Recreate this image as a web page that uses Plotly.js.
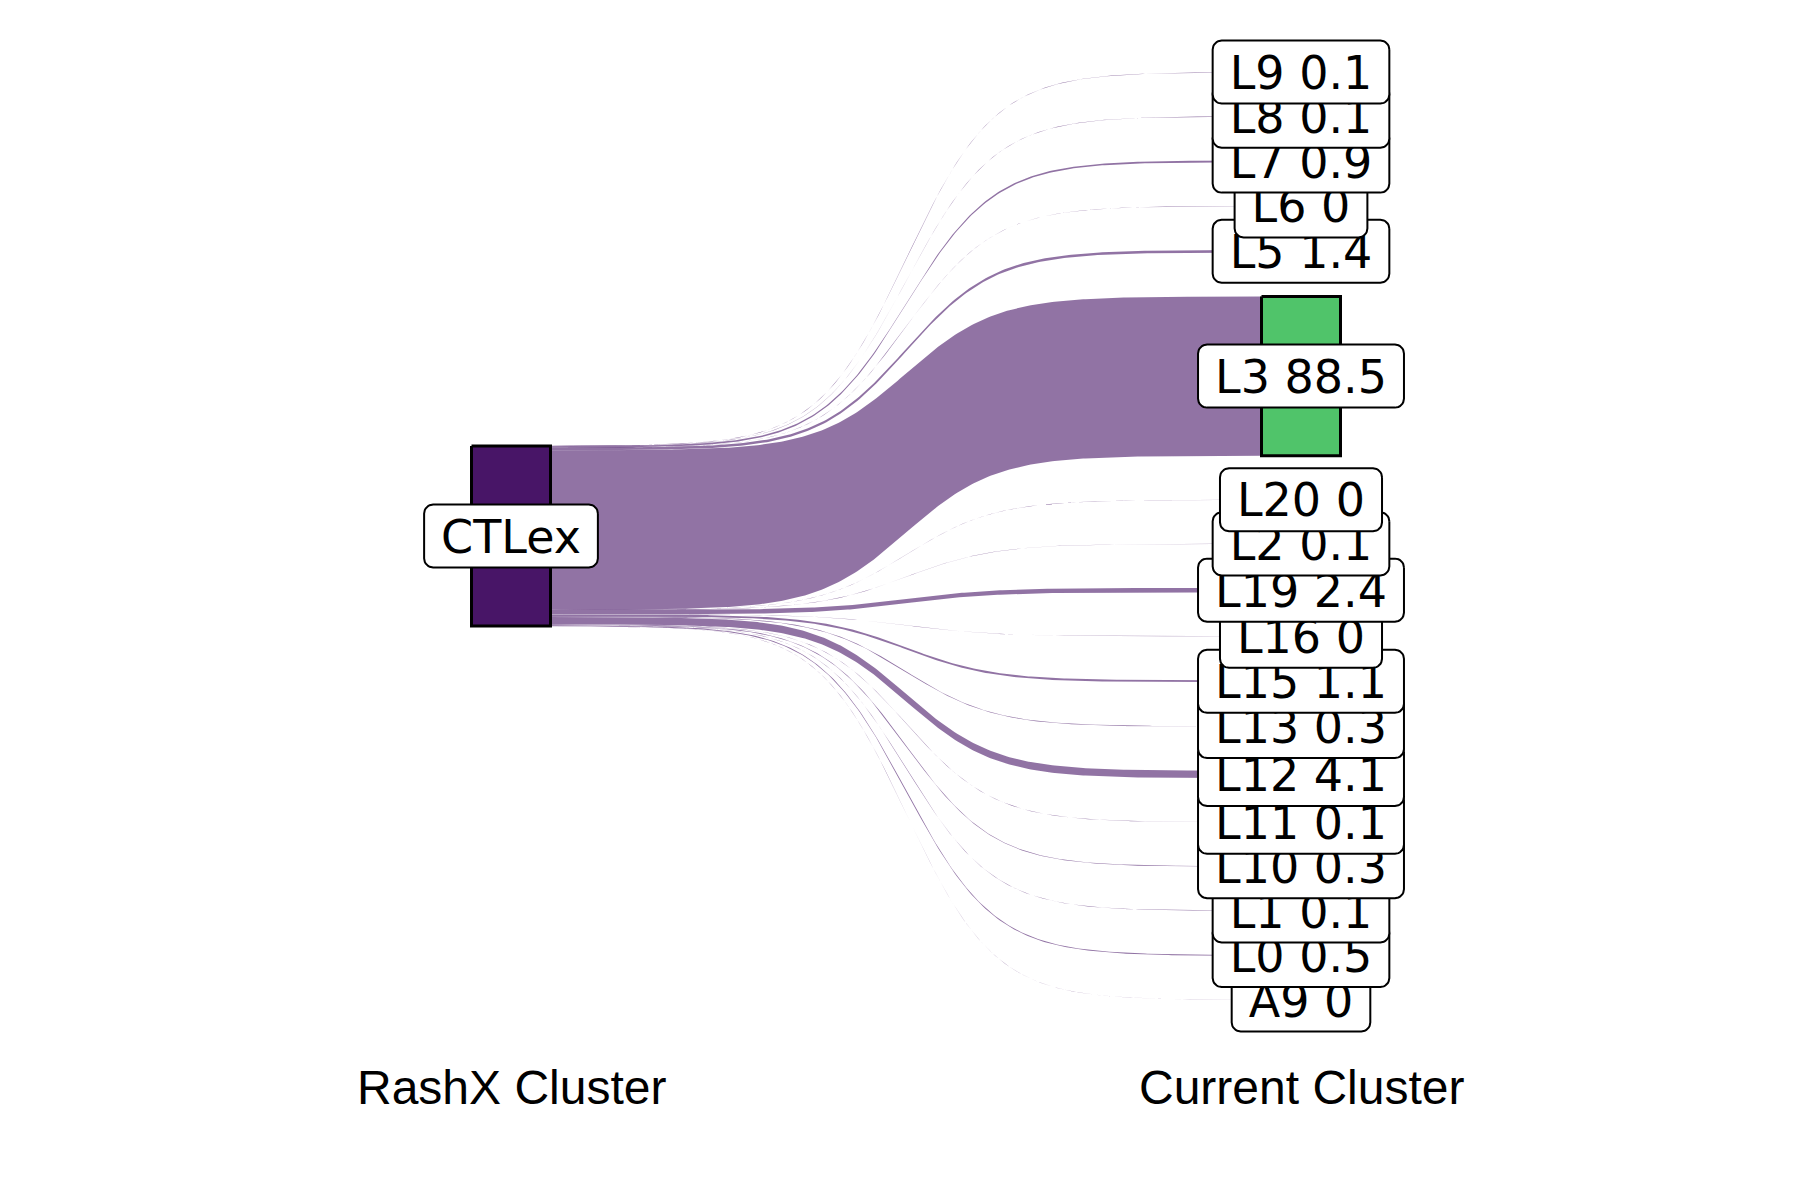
<!DOCTYPE html>
<html><head><meta charset="utf-8">
<script src="https://cdn.plot.ly/plotly-3.0.1.min.js"></script>
<style>html,body{margin:0;padding:0;background:#fff}</style>
</head><body><div id="chart" style="width:1800px;height:1200px"></div>
<script>
// ---- data ----
const sourceCluster = "CTLex";
const targetClusters = ["L9","L8","L7","L6","L5","L3","L20","L2","L19","L16","L15","L13","L12","L11","L10","L1","L0","A9"];
const flowPercent   = [0.1, 0.1, 0.9, 0.03, 1.4, 88.5, 0.02, 0.1, 2.4, 0.04, 1.1, 0.3, 4.1, 0.1, 0.3, 0.1, 0.5, 0.03];
const axisLabels = ["RashX Cluster", "Current Cluster"];

// ---- style / layout constants ----
const sourceColor = "#481567";
const linkColor = "rgba(72,21,103,0.6)";
const targetColors = ["#440154","#471063","#482071","#472D7B","#433E85","#50C46A","#3E4A89","#38598C","#32648E","#2D708E","#287C8E","#25858E","#21918C","#1E9B8A","#20A486","#29AF7F","#3BBB75","#63CB5F"];
const nodeWidth = 0.1;
const space = 24.44;
const smooth = 8;
const pxPerUnitY = 1.8;
const pxPerUnitX = 790;
const centerPx = 536;
const leftPx = 511;
const labelFontSize = 46;
const boxPadX = 17, boxH = 63, boxR = 9;
const textShiftPx = 5;

const total = flowPercent.reduce((a, b) => a + b, 0);

const leftTop = total / 2;
const rightTotal = total + space * (targetClusters.length - 1);
const rightTop = rightTotal / 2;

const leftPos = [], rightPos = [];
let lc = leftTop, rc = rightTop;
flowPercent.forEach(v => {
  leftPos.push([lc, lc - v]); lc -= v;
  rightPos.push([rc, rc - v]); rc -= v + space;
});

function sigmoid(x0, x1, y0, y1, n) {
  const xs = [], ys = [];
  for (let i = 0; i < n; i++) {
    const t = -smooth + (2 * smooth) * i / (n - 1);
    const s = Math.exp(t) / (Math.exp(t) + 1);
    xs.push((t + smooth) / (2 * smooth) * (x1 - x0) + x0);
    ys.push(s * (y1 - y0) + y0);
  }
  return [xs, ys];
}

const traces = [];
const xL = 1 + nodeWidth / 2, xR = 2 - nodeWidth / 2;
targetClusters.forEach((name, i) => {
  const [tx, ty] = sigmoid(xL, xR, leftPos[i][0], rightPos[i][0], 300);
  const [bx, by] = sigmoid(xL, xR, leftPos[i][1], rightPos[i][1], 300);
  traces.push({
    type: "scatter", mode: "lines",
    x: tx.concat(bx.slice().reverse()),
    y: ty.concat(by.slice().reverse()),
    fill: "toself", fillcolor: linkColor,
    line: { width: 0, color: "rgba(0,0,0,0)" },
    hoverinfo: "skip", showlegend: false
  });
});

function nodeTrace(xc, top, bot, color) {
  const h = nodeWidth / 2;
  return {
    type: "scatter", mode: "lines",
    x: [xc - h, xc + h, xc + h, xc - h, xc - h],
    y: [top, top, bot, bot, top],
    fill: "toself", fillcolor: color,
    line: { width: 3, color: "#000" },
    hoverinfo: "skip", showlegend: false
  };
}
targetClusters.forEach((name, i) => {
  traces.push(nodeTrace(2, rightPos[i][0], rightPos[i][1], targetColors[i]));
});
traces.push(nodeTrace(1, leftTop, leftTop - total, sourceColor));

// label sizes
const ctx = document.createElement("canvas").getContext("2d");
ctx.font = labelFontSize + "px 'DejaVu Sans'";
function tw(s) { return ctx.measureText(s).width; }
function fmt(v) { return String(Math.round(v * 10) / 10); }

function roundedBox(xc, yc, wPx, hPx, rPx) {
  const hw = wPx / 2, hh = hPx / 2;
  const corners = [
    [hw - rPx, hh - rPx, 0, 90],
    [-hw + rPx, hh - rPx, 90, 180],
    [-hw + rPx, -hh + rPx, 180, 270],
    [hw - rPx, -hh + rPx, 270, 360]
  ];
  const xs = [], ys = [];
  corners.forEach(([cx, cy, a0, a1]) => {
    for (let k = 0; k <= 8; k++) {
      const a = (a0 + (a1 - a0) * k / 8) * Math.PI / 180;
      xs.push(xc + (cx + rPx * Math.cos(a)) / pxPerUnitX);
      ys.push(yc + (cy + rPx * Math.sin(a)) / pxPerUnitY);
    }
  });
  xs.push(xs[0]); ys.push(ys[0]);
  return [xs, ys];
}

function addLabel(x, y, text) {
  const [bx, by] = roundedBox(x, y, tw(text) + 2 * boxPadX, boxH, boxR);
  traces.push({
    type: "scatter", mode: "lines", x: bx, y: by,
    fill: "toself", fillcolor: "#fff",
    line: { width: 2, color: "#000" },
    hoverinfo: "skip", showlegend: false
  });
  traces.push({
    type: "scatter", mode: "text", x: [x], y: [y - textShiftPx / pxPerUnitY], text: [text],
    textposition: "middle center",
    textfont: { family: "DejaVu Sans", size: labelFontSize, color: "#000" },
    hoverinfo: "skip", showlegend: false, cliponaxis: false
  });
}

for (let i = targetClusters.length - 1; i >= 0; i--) {
  const yc = (rightPos[i][0] + rightPos[i][1]) / 2;
  addLabel(2, yc, targetClusters[i] + " " + fmt(flowPercent[i]));
}
addLabel(1, 0, sourceCluster);

const annotations = axisLabels.map((t, i) => ({
  x: i + 1, y: 1 - 1087 / 1200, xref: "x", yref: "paper", text: t, showarrow: false,
  font: { family: "Liberation Sans, Arial, sans-serif", size: 48, color: "#000" },
  xanchor: "center", yanchor: "middle"
}));

const layout = {
  width: 1800, height: 1200,
  margin: { l: 0, r: 0, t: 0, b: 0 },
  paper_bgcolor: "#fff", plot_bgcolor: "#fff",
  xaxis: { range: [1 - leftPx / pxPerUnitX, 1 + (1800 - leftPx) / pxPerUnitX], visible: false, fixedrange: true },
  yaxis: { range: [-(1200 - centerPx) / pxPerUnitY, centerPx / pxPerUnitY], visible: false, fixedrange: true },
  showlegend: false,
  annotations: annotations
};

Plotly.newPlot("chart", traces, layout, { staticPlot: true, displayModeBar: false });
</script>
</body></html>
